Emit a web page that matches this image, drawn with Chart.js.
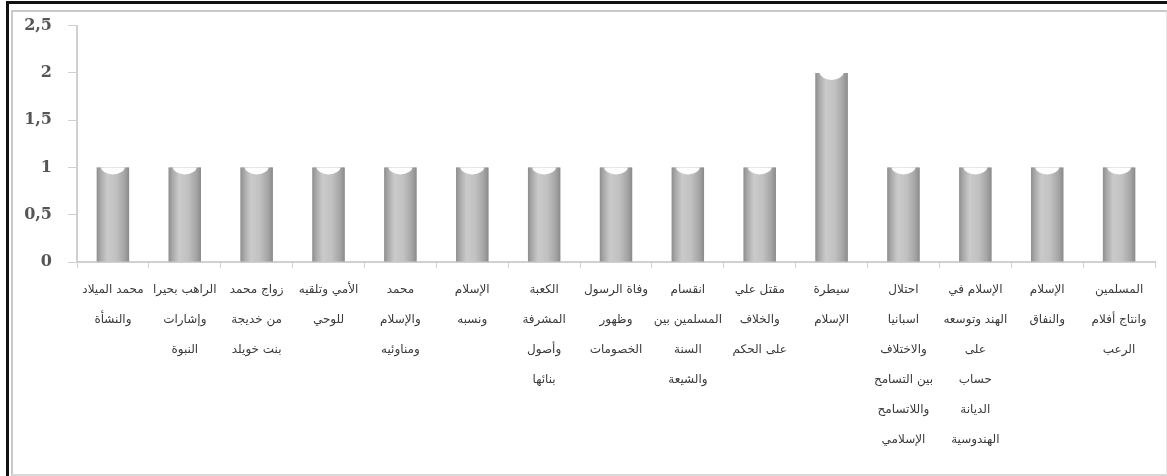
<!DOCTYPE html>
<html lang="ar">
<head>
<meta charset="utf-8">
<title>مخطط المواضيع</title>
<script src="https://cdn.jsdelivr.net/npm/chart.js@4/dist/chart.umd.min.js"></script>
<style>
  html, body { margin: 0; padding: 0; background: #fff; }
  .wrap { position: relative; width: 1167px; height: 476px; overflow: hidden; }
  .frame-outer {
    position: absolute; left: 6px; top: 1px; width: 1200px; height: 520px;
    border-top: 3px solid #111; border-left: 3px solid #111;
  }
  .frame-inner {
    position: absolute; left: 11px; top: 10px; width: 1153px; height: 462px;
    border: 2px solid #c9c9c9; border-right-color: #e6e6e6; border-bottom-color: #d8d8d8;
  }
  canvas { position: absolute; left: 0; top: 0; }
</style>
</head>
<body>
<div class="wrap">
  <div class="frame-outer"></div>
  <div class="frame-inner"></div>
  <canvas id="chart" width="1167" height="476"></canvas>
</div>
<script>
// topics, one per bar (each line of a label is one entry)
const topics = [
  ['محمد الميلاد', 'والنشأة'],
  ['الراهب بحيرا', 'وإشارات', 'النبوة'],
  ['زواج محمد', 'من خديجة', 'بنت خويلد'],
  ['الأمي وتلقيه', 'للوحي'],
  ['محمد', 'والإسلام', 'ومناوئيه'],
  ['الإسلام', 'ونسبه'],
  ['الكعبة', 'المشرفة', 'وأصول', 'بنائها'],
  ['وفاة الرسول', 'وظهور', 'الخصومات'],
  ['انقسام', 'المسلمين بين', 'السنة', 'والشيعة'],
  ['مقتل علي', 'والخلاف', 'على الحكم'],
  ['سيطرة', 'الإسلام'],
  ['احتلال', 'اسبانيا', 'والاختلاف', 'بين التسامح', 'واللاتسامح', 'الإسلامي'],
  ['الإسلام في', 'الهند وتوسعه', 'على', 'حساب', 'الديانة', 'الهندوسية'],
  ['الإسلام', 'والنفاق'],
  ['المسلمين', 'وانتاج أفلام', 'الرعب']
];
const counts = [1, 1, 1, 1, 1, 1, 1, 1, 1, 1, 2, 1, 1, 1, 1];
const yTicks = [0, 0.5, 1, 1.5, 2, 2.5];

// repaint each bar as a grey cylinder with a white cap
const cylinderBars = {
  id: 'cylinderBars',
  afterDatasetsDraw(chart) {
    const ctx = chart.ctx;
    chart.getDatasetMeta(0).data.forEach(bar => {
      const { x, y, base, width } = bar.getProps(['x', 'y', 'base', 'width'], true);
      const l = x - width / 2, r = x + width / 2;
      const g = ctx.createLinearGradient(l, 0, r, 0);
      g.addColorStop(0, '#8e8e8e');
      g.addColorStop(0.12, '#a9a9a9');
      g.addColorStop(0.32, '#cacaca');
      g.addColorStop(0.6, '#c1c1c1');
      g.addColorStop(0.86, '#a4a4a4');
      g.addColorStop(1, '#8a8a8a');
      ctx.save();
      ctx.beginPath();
      ctx.rect(l, y, width, base - y);
      ctx.fillStyle = g;
      ctx.fill();
      ctx.clip();
      ctx.beginPath();
      ctx.ellipse(x, y - 1, width / 2 - 4, 8, 0, 0, Math.PI * 2);
      ctx.fillStyle = '#ffffff';
      ctx.fill();
      ctx.restore();
    });
  }
};

new Chart(document.getElementById('chart'), {
  type: 'bar',
  data: {
    labels: topics,
    datasets: [{
      data: counts,
      backgroundColor: '#bdbdbd',
      borderWidth: 0,
      barPercentage: 0.45,
      categoryPercentage: 1
    }]
  },
  options: {
    responsive: false,
    animation: false,
    layout: { padding: { top: 24, right: 12, left: 0, bottom: 0 } },
    plugins: { legend: { display: false }, tooltip: { enabled: false } },
    scales: {
      x: {
        offset: true,
        grid: { drawOnChartArea: false, tickLength: 6, color: '#d0d0d0', lineWidth: 1 },
        border: { color: '#d0d0d0', width: 2 },
        ticks: {
          autoSkip: false, maxRotation: 0, minRotation: 0, padding: 7,
          color: '#3a3a3a',
          font: { family: 'DejaVu Sans', size: 12, lineHeight: 2.5 }
        },
        afterFit: s => { s.height = 214; }
      },
      y: {
        min: 0, max: 2.5,
        afterBuildTicks: s => { s.ticks = yTicks.map(v => ({ value: v })); },
        grid: { drawOnChartArea: false, tickLength: 9, color: '#d0d0d0' },
        border: { color: '#d0d0d0', width: 2 },
        ticks: {
          padding: 16,
          color: '#555555',
          font: { family: 'DejaVu Serif', size: 16, weight: 'bold' },
          callback: v => String(v).replace('.', ',')
        },
        afterFit: s => { s.width = 77; }
      }
    }
  },
  plugins: [cylinderBars]
});
</script>
</body>
</html>
